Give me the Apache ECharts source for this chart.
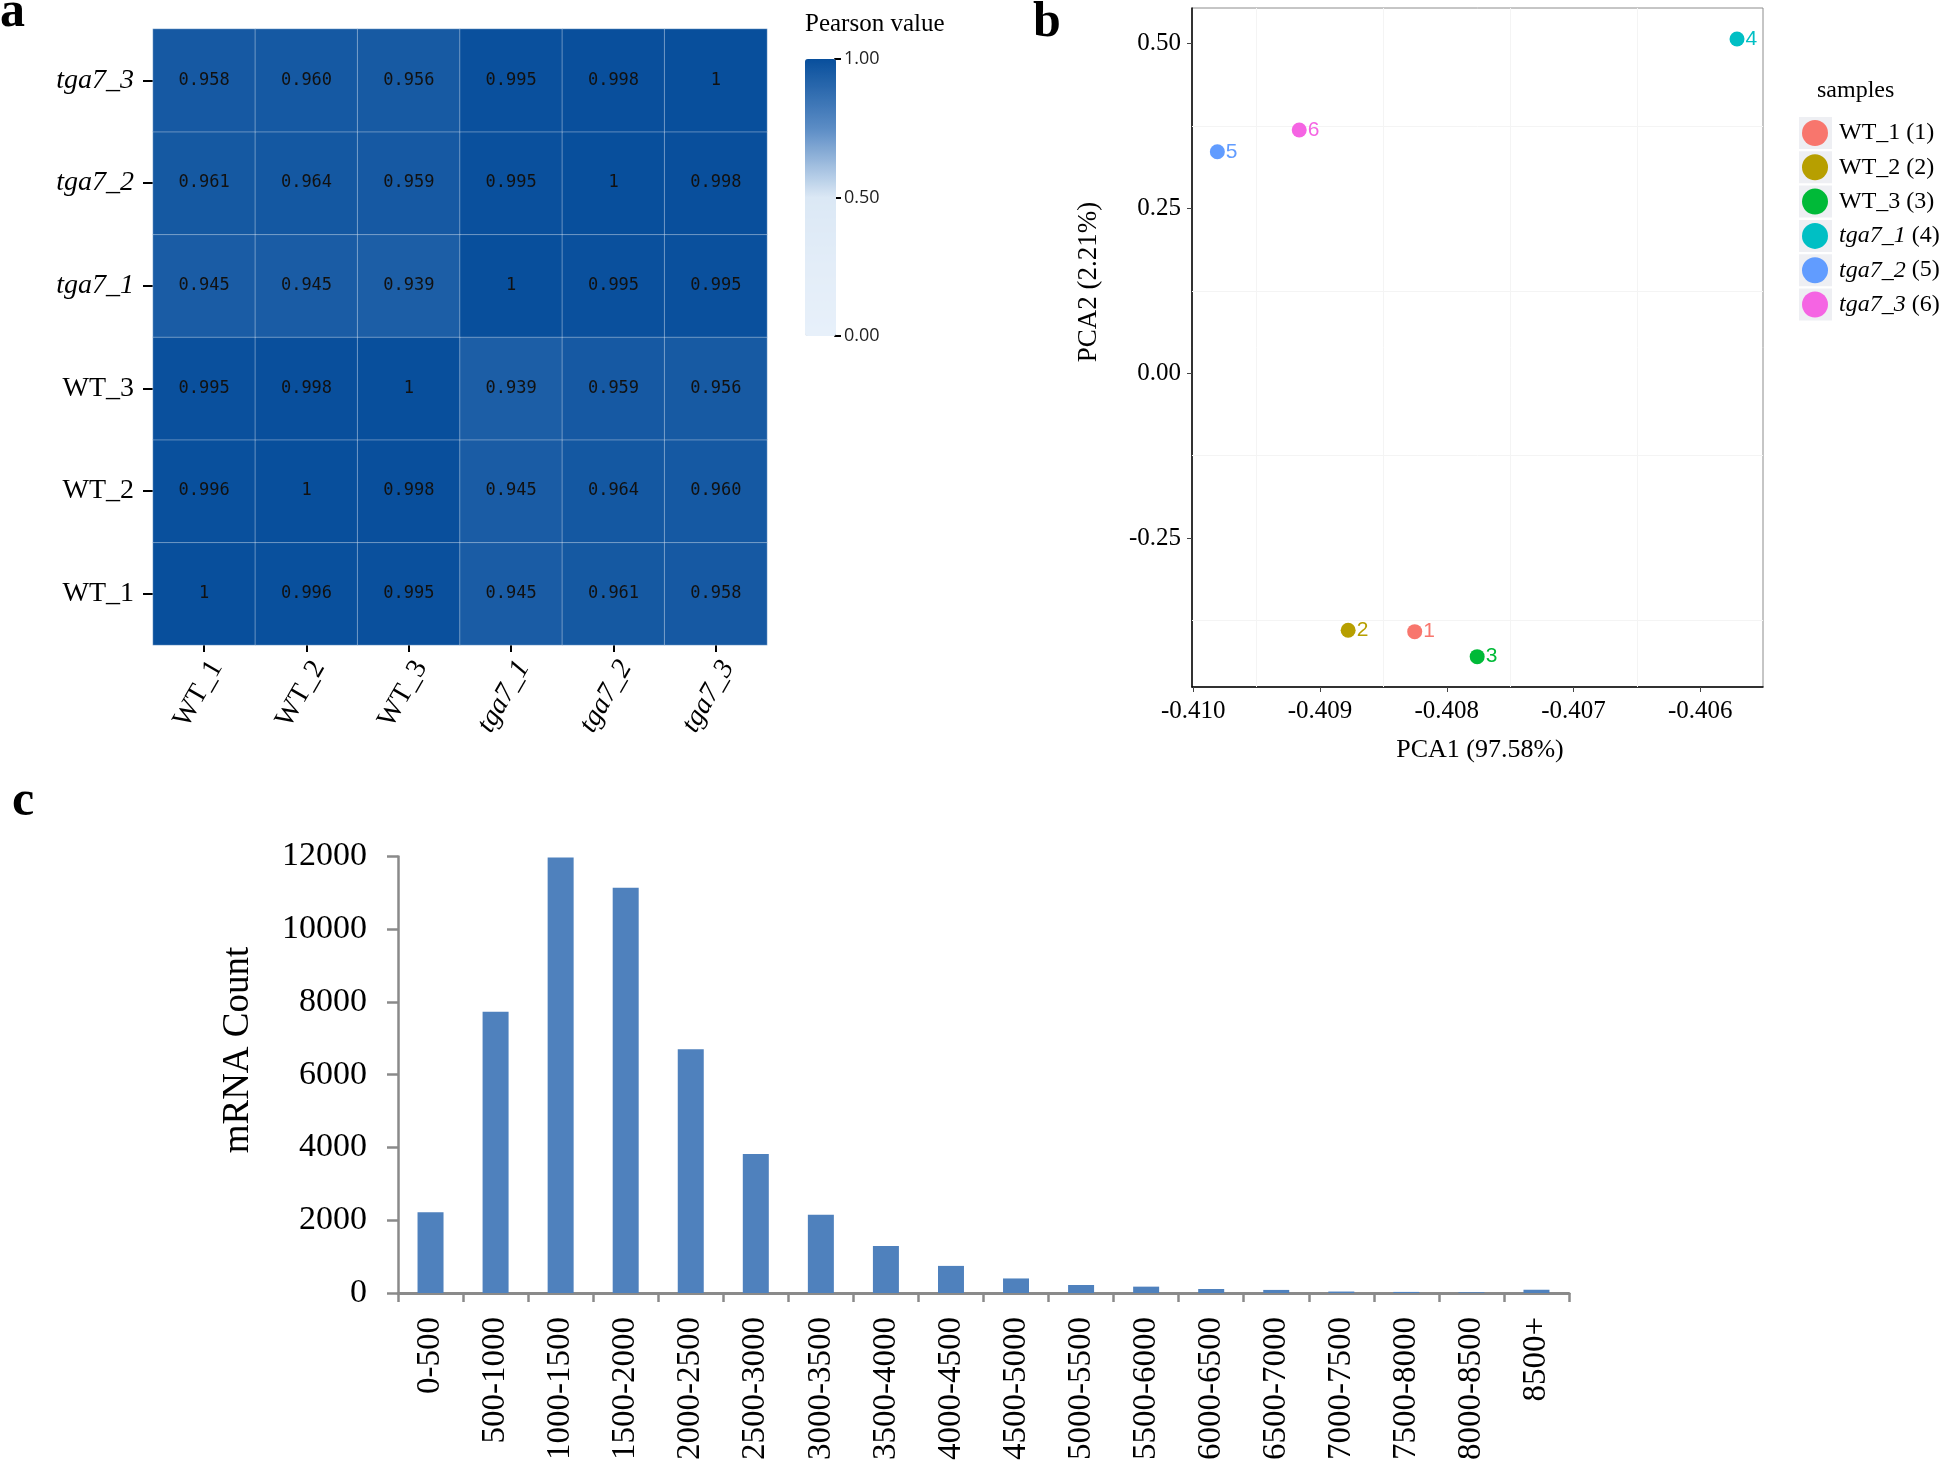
<!DOCTYPE html>
<html><head><meta charset="utf-8">
<script src="https://cdn.jsdelivr.net/npm/echarts@6/dist/echarts.min.js"></script>
<style>html,body{margin:0;padding:0;background:#fff}#c{width:1946px;height:1463px}</style>
</head><body><div id="c"></div>
<script>
// ---------- Panel a: Pearson correlation heatmap ----------
const samples = ['WT_1', 'WT_2', 'WT_3', 'tga7_1', 'tga7_2', 'tga7_3'];
const corWT_1   = [1, 0.996, 0.995, 0.945, 0.961, 0.958];
const corWT_2   = [0.996, 1, 0.998, 0.945, 0.964, 0.960];
const corWT_3   = [0.995, 0.998, 1, 0.939, 0.959, 0.956];
const corTga7_1 = [0.945, 0.945, 0.939, 1, 0.995, 0.995];
const corTga7_2 = [0.961, 0.964, 0.959, 0.995, 1, 0.998];
const corTga7_3 = [0.958, 0.960, 0.956, 0.995, 0.998, 1];
const colorbarTicks = [0, 0.5, 1];

// ---------- Panel b: PCA ----------
const pcaNames = ['WT_1 (1)', 'WT_2 (2)', 'WT_3 (3)', 'tga7_1 (4)', 'tga7_2 (5)', 'tga7_3 (6)'];
const pcaIds = ['1', '2', '3', '4', '5', '6'];
const pca1 = [-0.408253, -0.408778, -0.407760, -0.405710, -0.409810, -0.409164];
const pca2 = [-0.392, -0.390, -0.430, 0.507, 0.336, 0.369];
const pca1Range = [-0.41001, -0.405505];
const pca2Range = [-0.476, 0.554];
const pca1Ticks = [-0.410, -0.409, -0.408, -0.407, -0.406];
const pca2Ticks = [-0.25, 0, 0.25, 0.5];
const pca1Minor = [-0.4095, -0.4085, -0.4075, -0.4065];
const pca2Minor = [-0.375, -0.125, 0.125, 0.375];

// ---------- Panel c: mRNA length distribution ----------
const lengthBins = ['0-500', '500-1000', '1000-1500', '1500-2000', '2000-2500', '2500-3000',
  '3000-3500', '3500-4000', '4000-4500', '4500-5000', '5000-5500', '5500-6000', '6000-6500',
  '6500-7000', '7000-7500', '7500-8000', '8000-8500', '8500+'];
const mrnaCounts = [2220, 7730, 11970, 11140, 6700, 3820, 2150, 1295, 745, 400, 220, 175, 110, 85, 40, 30, 20, 90];

// ---------- styles ----------
const pcaColors = ['#F8766D', '#B79F00', '#00BA38', '#00BFC4', '#619CFF', '#F564E3'];
const SERIF = '"Liberation Serif", "Times New Roman", serif';

const corRows = [corWT_1, corWT_2, corWT_3, corTga7_1, corTga7_2, corTga7_3];
const heatData = [];
corRows.forEach((row, r) => row.forEach((v, c) => heatData.push([c, r, v])));

const sampleFmt = v => v.indexOf('tga7') === 0 ? '{it|' + v + '}' : '{up|' + v + '}';
const sampleRich = {
  it: { fontFamily: SERIF, fontSize: 28, fontStyle: 'italic', color: '#000' },
  up: { fontFamily: SERIF, fontSize: 28, color: '#000' }
};

const legendFmt = name => {
  const m = name.match(/^(\S+)(.*)$/);
  return m[1].indexOf('tga7') === 0 ? '{g|}{it|' + m[1] + '}{up|' + m[2] + '}' : '{g|}{up|' + name + '}';
};

const chart = echarts.init(document.getElementById('c'), null, { renderer: 'canvas' });

const minorLines = pca2Minor.map(v => [{ coord: [pca1Range[0], v] }, { coord: [pca1Range[1], v] }])
  .concat(pca1Minor.map(v => [{ coord: [v, pca2Range[0]] }, { coord: [v, pca2Range[1]] }]));

const pcaSeries = pcaNames.map((n, i) => {
  const s = {
    name: n, type: 'scatter', xAxisIndex: 2, yAxisIndex: 2,
    symbolSize: 15,
    data: [[pca1[i], pca2[i]]],
    itemStyle: { color: pcaColors[i], opacity: 1 },
    label: { show: true, position: 'right', distance: 1, formatter: pcaIds[i],
      color: pcaColors[i], fontFamily: '"Liberation Sans", Arial, sans-serif', fontSize: 21 },
    emphasis: { disabled: true },
    z: 5
  };
  if (i === 0) {
    s.markLine = {
      silent: true, symbol: 'none', animation: false,
      label: { show: false },
      lineStyle: { color: '#f4f4f4', width: 1, type: 'solid' },
      data: minorLines
    };
  }
  return s;
});

const option = {
  animation: false,
  backgroundColor: '#fff',
  grid: [
    { left: 153, top: 29, width: 614, height: 616 },
    { left: 835, top: 59, width: 1, height: 277 },
    { left: 1192, top: 8, width: 571, height: 679, show: true, borderColor: '#8c8c8c', borderWidth: 1, backgroundColor: '#fff' },
    { left: 398, top: 856.4, width: 1171, height: 437.2 }
  ],
  xAxis: [
    { type: 'category', gridIndex: 0, data: samples,
      axisLine: { show: false },
      axisTick: { show: true, alignWithLabel: true, length: 7, lineStyle: { color: '#000', width: 2 } },
      axisLabel: { rotate: 60, margin: 11, verticalAlign: 'top', formatter: sampleFmt, rich: sampleRich },
      splitLine: { show: false } },
    { type: 'value', gridIndex: 1, show: false, min: 0, max: 1 },
    { type: 'value', gridIndex: 2, min: pca1Range[0], max: pca1Range[1],
      axisLine: { show: true, onZero: false, lineStyle: { color: '#000', width: 1.5 } },
      axisTick: { show: true, customValues: pca1Ticks, length: 5, lineStyle: { color: '#444', width: 1 } },
      axisLabel: { customValues: pca1Ticks, formatter: v => v.toFixed(3), margin: 12,
        fontFamily: SERIF, fontSize: 25, color: '#000' },
      splitLine: { show: false } },
    { type: 'category', gridIndex: 3, data: lengthBins,
      axisLine: { show: true, lineStyle: { color: '#8a8a8a', width: 3 } },
      axisTick: { show: true, alignWithLabel: false, length: 9, lineStyle: { color: '#8a8a8a', width: 2.5 } },
      axisLabel: { interval: 0, rotate: 90, margin: 24, fontFamily: SERIF, fontSize: 33, color: '#000' },
      splitLine: { show: false } }
  ],
  yAxis: [
    { type: 'category', gridIndex: 0, data: samples,
      axisLine: { show: false },
      axisTick: { show: true, alignWithLabel: true, length: 10, lineStyle: { color: '#000', width: 2 } },
      axisLabel: { margin: 19, formatter: sampleFmt, rich: sampleRich },
      splitLine: { show: false } },
    { type: 'value', gridIndex: 1, position: 'right', min: 0, max: 1, interval: 0.5,
      axisLine: { show: true, lineStyle: { color: '#000', width: 2 } },
      axisTick: { show: true, customValues: colorbarTicks, length: 6, lineStyle: { color: '#000', width: 2 } },
      axisLabel: { customValues: colorbarTicks, formatter: v => v.toFixed(2), margin: 8,
        fontFamily: '"Open Sans", "DejaVu Sans", sans-serif', fontSize: 18, color: '#222' },
      splitLine: { show: false } },
    { type: 'value', gridIndex: 2, min: pca2Range[0], max: pca2Range[1],
      axisLine: { show: true, onZero: false, lineStyle: { color: '#000', width: 1.5 } },
      axisTick: { show: true, customValues: pca2Ticks, length: 5, lineStyle: { color: '#444', width: 1 } },
      axisLabel: { customValues: pca2Ticks, formatter: v => v.toFixed(2), margin: 11,
        fontFamily: SERIF, fontSize: 25, color: '#000' },
      splitLine: { show: false } },
    { type: 'value', gridIndex: 3, min: 0, max: 12000, interval: 2000,
      axisLine: { show: true, lineStyle: { color: '#8a8a8a', width: 2.5 } },
      axisTick: { show: true, length: 11, lineStyle: { color: '#8a8a8a', width: 2.5 } },
      axisLabel: { margin: 31, formatter: v => String(v), fontFamily: SERIF, fontSize: 34, color: '#000' },
      splitLine: { show: false } }
  ],
  visualMap: {
    type: 'continuous', seriesIndex: 0, min: 0, max: 1,
    left: 805, top: 59, itemWidth: 31, itemHeight: 277, padding: 0,
    calculable: false, realtime: false, hoverLink: false,
    inRange: { color: ['#e7f0fa', '#e3edf8', '#dbe8f5', '#5b8cc5', '#084f9c'] }
  },
  legend: [
    { data: pcaNames, orient: 'vertical', left: 1794, top: 112,
      itemWidth: 33, itemHeight: 32, itemGap: 2.3, icon: 'rect',
      itemStyle: { color: '#eeeff3' }, formatter: () => '',
      selectedMode: false, z: 3, textStyle: { fontSize: 10 } },
    { data: pcaNames, orient: 'vertical', left: 1797, top: 115,
      itemWidth: 26, itemHeight: 26, itemGap: 8.3, icon: 'circle',
      formatter: legendFmt, selectedMode: false, z: 6,
      textStyle: { fontFamily: SERIF, fontSize: 24, color: '#000',
        rich: {
          g: { width: 6, fontSize: 24, lineHeight: 26 },
          up: { fontFamily: SERIF, fontSize: 24, color: '#000', lineHeight: 26 },
          it: { fontFamily: SERIF, fontSize: 24, fontStyle: 'italic', color: '#000', lineHeight: 26 }
        } } }
  ],
  graphic: [
    { type: 'text', x: 0, y: 12.8, style: { text: 'a', font: 'bold 50px ' + SERIF, fill: '#000', verticalAlign: 'middle' } },
    { type: 'text', x: 1033, y: 22.8, style: { text: 'b', font: 'bold 50px ' + SERIF, fill: '#000', verticalAlign: 'middle' } },
    { type: 'text', x: 12, y: 801.8, style: { text: 'c', font: 'bold 50px ' + SERIF, fill: '#000', verticalAlign: 'middle' } },
    { type: 'text', x: 805, y: 24, style: { text: 'Pearson value', font: '25px ' + SERIF, fill: '#000', verticalAlign: 'middle' } },
    { type: 'text', x: 1817, y: 91, style: { text: 'samples', font: '24px ' + SERIF, fill: '#000', verticalAlign: 'middle' } },
    { type: 'text', x: 1480, y: 750, style: { text: 'PCA1 (97.58%)', font: '26px ' + SERIF, fill: '#000', align: 'center', verticalAlign: 'middle' } },
    { type: 'text', x: 1089, y: 282, rotation: Math.PI / 2, style: { text: 'PCA2 (2.21%)', font: '27px ' + SERIF, fill: '#000', align: 'center', verticalAlign: 'middle' } },
    { type: 'text', x: 238, y: 1050, rotation: Math.PI / 2, style: { text: 'mRNA Count', font: '37px ' + SERIF, fill: '#000', align: 'center', verticalAlign: 'middle' } }
  ],
  series: [
    { type: 'heatmap', xAxisIndex: 0, yAxisIndex: 0, data: heatData,
      label: { show: true, formatter: p => p.value[2] === 1 ? '1' : p.value[2].toFixed(3),
        fontFamily: '"DejaVu Sans Mono", monospace', fontSize: 17, color: '#111' },
      itemStyle: { borderColor: 'rgba(255,255,255,0.35)', borderWidth: 1 },
      emphasis: { disabled: true } }
  ].concat(pcaSeries).concat([
    { type: 'bar', xAxisIndex: 3, yAxisIndex: 3, data: mrnaCounts, barWidth: 26,
      itemStyle: { color: '#4f81bd' }, emphasis: { disabled: true } }
  ])
};
chart.setOption(option);
</script></body></html>
